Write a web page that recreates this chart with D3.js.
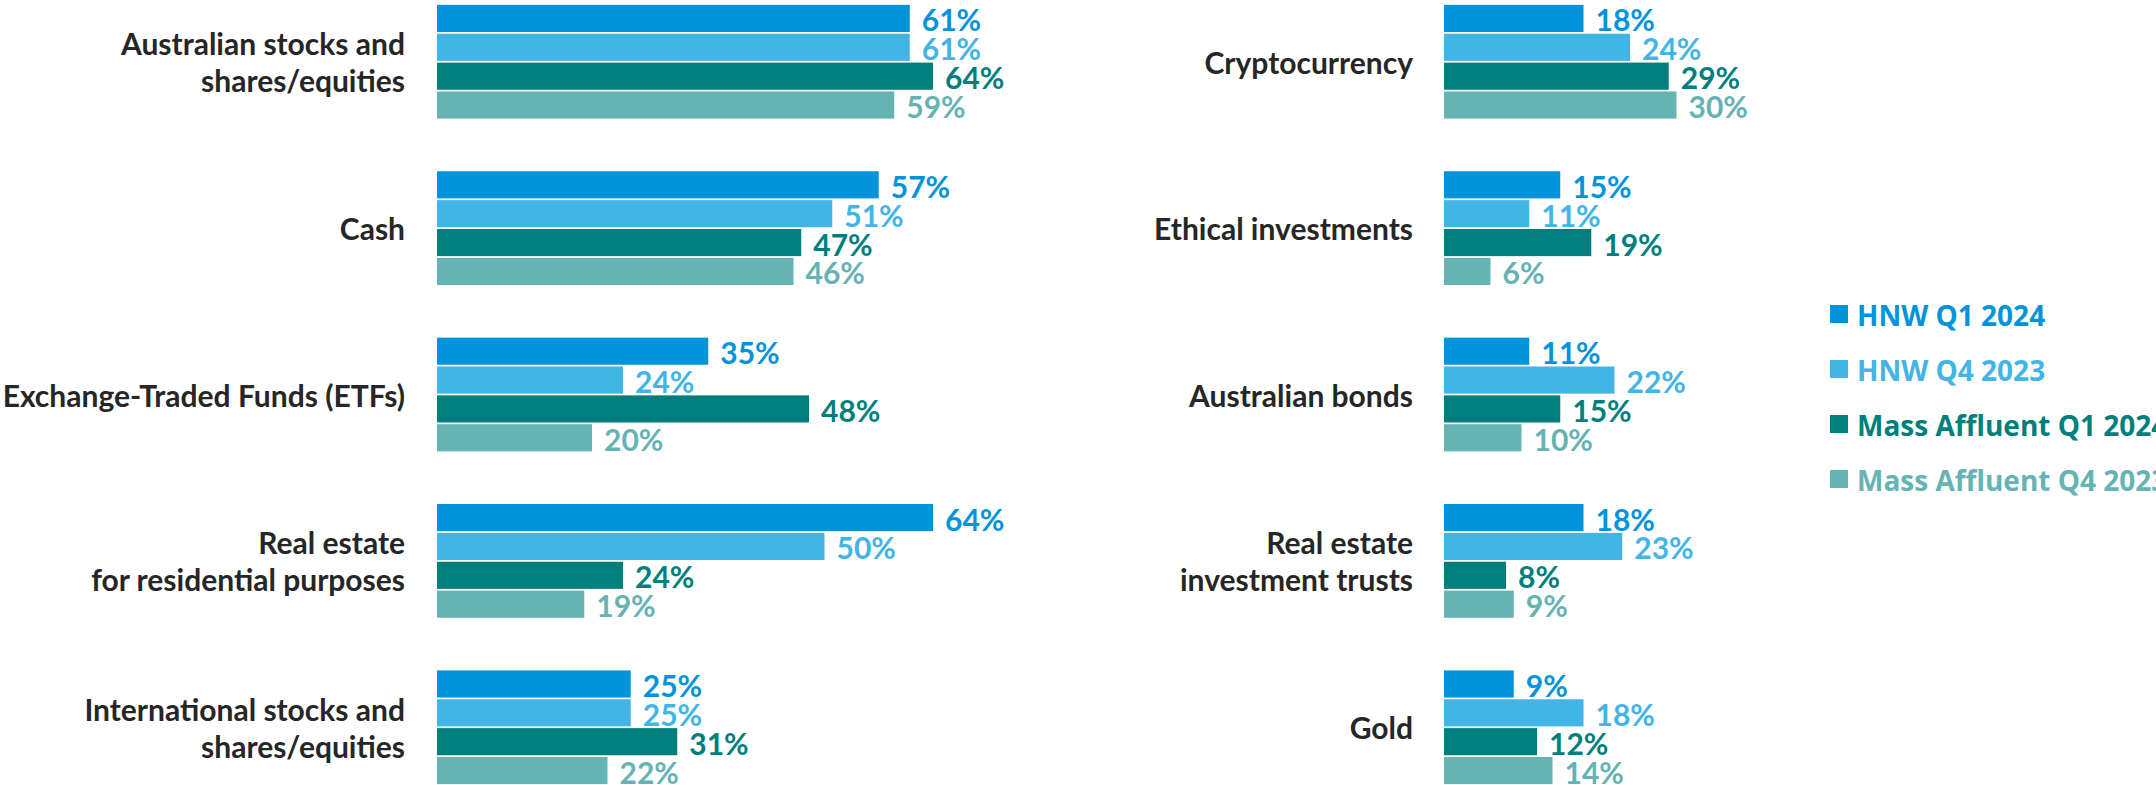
<!DOCTYPE html>
<html>
<head>
<meta charset="utf-8">
<script src="https://cdn.jsdelivr.net/npm/d3@7"></script>
<style>
  html, body { margin: 0; padding: 0; background: #ffffff; }
  svg { display: block; }
</style>
</head>
<body>
<svg id="chart" width="2156" height="785"></svg>
<script>
// ---- DATA ----
const seriesNames = ["HNW Q1 2024", "HNW Q4 2023", "Mass Affluent Q1 2024", "Mass Affluent Q4 2023"];
const seriesColors = ["#0393db", "#42b4e6", "#007f7d", "#66b3b4"];

const leftCategories = [
  "Australian stocks and\nshares/equities",
  "Cash",
  "Exchange-Traded Funds (ETFs)",
  "Real estate\nfor residential purposes",
  "International stocks and\nshares/equities"
];
const leftHnwQ1 = [61, 57, 35, 64, 25];
const leftHnwQ4 = [61, 51, 24, 50, 25];
const leftMassQ1 = [64, 47, 48, 24, 31];
const leftMassQ4 = [59, 46, 20, 19, 22];

const rightCategories = [
  "Cryptocurrency",
  "Ethical investments",
  "Australian bonds",
  "Real estate\ninvestment trusts",
  "Gold"
];
const rightHnwQ1 = [18, 15, 11, 18, 9];
const rightHnwQ4 = [24, 11, 22, 23, 18];
const rightMassQ1 = [29, 19, 15, 8, 12];
const rightMassQ4 = [30, 6, 10, 9, 14];

// ---- CHART ----
const svg = d3.select("#chart");
const labelFont = "Lato, 'Open Sans', sans-serif";
const legendFont = "'Open Sans', 'Noto Sans', sans-serif";

const y = d3.scaleBand().domain(d3.range(5)).range([4, 785]).paddingInner(0.306).paddingOuter(0);
const ySub = d3.scaleBand().domain(d3.range(4)).range([0, y.bandwidth()]).paddingInner(0.06).paddingOuter(0.03);

function panel(categories, series, x0, labelRight) {
  const x = d3.scaleLinear().domain([0, 100]).range([x0, x0 + 775]);
  const g = svg.append("g");
  categories.forEach((cat, i) => {
    const gy = y(i);
    const grp = g.append("g");
    const rows = series.map((vals, s) => ({ s, v: vals[i] }));
    grp.selectAll("rect").data(rows).enter().append("rect")
      .attr("x", x(0))
      .attr("y", d => gy + ySub(d.s))
      .attr("width", d => x(d.v) - x(0))
      .attr("height", ySub.bandwidth())
      .attr("fill", d => seriesColors[d.s]);
    grp.selectAll("text.val").data(rows).enter().append("text")
      .attr("class", "val")
      .attr("x", d => x(d.v) + 12)
      .attr("y", d => gy + ySub(d.s) + ySub.bandwidth() / 2 + 1)
      .attr("dominant-baseline", "central")
      .attr("font-family", labelFont)
      .attr("font-weight", 700)
      .attr("font-size", 30)
      .attr("fill", d => seriesColors[d.s])
      .text(d => d.v + "%");
    const lines = cat.split("\n");
    const cy = gy + y.bandwidth() / 2;
    const lh = 37;
    const t = grp.append("text")
      .attr("text-anchor", "end")
      .attr("font-family", labelFont)
      .attr("font-weight", 700)
      .attr("font-size", 30)
      .attr("fill", "#262626");
    lines.forEach((ln, k) => {
      t.append("tspan")
        .attr("x", labelRight)
        .attr("y", cy + (k - (lines.length - 1) / 2) * lh)
        .attr("dominant-baseline", "central")
        .text(ln);
    });
  });
}

panel(leftCategories, [leftHnwQ1, leftHnwQ4, leftMassQ1, leftMassQ4], 437, 405);
panel(rightCategories, [rightHnwQ1, rightHnwQ4, rightMassQ1, rightMassQ4], 1444, 1413);

// ---- LEGEND ----
const ly = d3.scalePoint().domain(d3.range(4)).range([314, 479]);
const legend = svg.append("g");
seriesNames.forEach((name, i) => {
  legend.append("rect")
    .attr("x", 1830).attr("y", ly(i) - 9)
    .attr("width", 18).attr("height", 18)
    .attr("fill", seriesColors[i]);
  legend.append("text")
    .attr("x", 1857).attr("y", ly(i) + 1)
    .attr("dominant-baseline", "central")
    .attr("font-family", legendFont)
    .attr("font-weight", 700)
    .attr("font-size", 28)
    .attr("fill", seriesColors[i])
    .text(name);
});
</script>
</body>
</html>
